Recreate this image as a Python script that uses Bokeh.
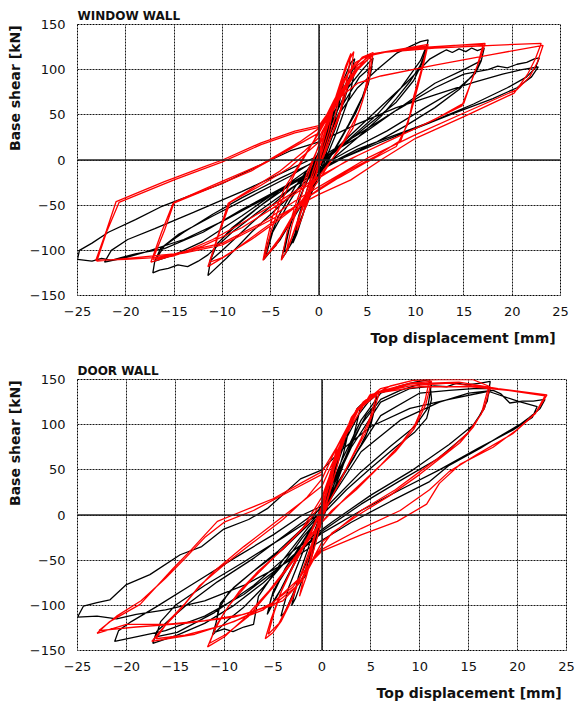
import math
from bokeh.plotting import figure
from bokeh.layouts import column
from bokeh.models import Range1d, Span, Title, FixedTicker
from bokeh.embed import file_html
from bokeh.resources import INLINE

X_TICKS = [-25, -20, -15, -10, -5, 0, 5, 10, 15, 20, 25]
Y_TICKS = [-150, -100, -50, 0, 50, 100, 150]

WIN_TITLE = "WINDOW WALL"
DOOR_TITLE = "DOOR WALL"
X_LABEL = "Top displacement  [mm]"
Y_LABEL = "Base shear  [kN]"

# Window wall - experimental (black)
WIN_BLACK = [
    (0, 0), (0.4, 15), (0.9, 32), (1.1, 38), (0.7, 22), (0.1, 2), (-0.4, -15), (-0.9, -33), (-1.1, -40), (-0.7, -24), (-0.1, -4),
    (0.5, 18), (1.2, 42), (1.6, 55), (1.2, 36), (0.4, 8), (-0.5, -20), (-1.2, -45), (-1.7, -62), (-1.2, -40), (-0.4, -12),
    (0.6, 22), (1.5, 55), (2.3, 80), (2.6, 88), (2.0, 58), (1.0, 22), (-0.2, -12), (-1.3, -48), (-2.3, -82), (-2.7, -92), (-2.1, -62), (-1.0, -25), (0.1, 8),
    (1.2, 45), (2.4, 85), (3.3, 108), (3.7, 112), (3.0, 80), (1.8, 38), (0.4, -2), (-1.2, -45), (-2.6, -88), (-3.5, -104), (-3.9, -110), (-3.2, -80), (-2.0, -42), (-0.6, -5),
    (1.0, 35), (2.5, 78), (3.5, 100), (3.8, 105), (3.2, 72), (1.8, 30), (0.2, -12), (-1.5, -55), (-3.0, -95), (-3.6, -102), (-3.0, -72), (-1.6, -32), (0, 5),
    (1.5, 45), (3, 80), (4.5, 100), (5.6, 113), (5.3, 95), (4.5, 70), (3, 38), (1.5, 10), (0, -15), (-2, -52), (-4, -88), (-5.7, -110), (-5.3, -92), (-4.2, -62), (-2.5, -30), (-0.8, -5), (0.8, 22),
    (2.5, 62), (4.2, 92), (5.5, 104), (5.1, 84), (3.8, 52), (2, 18), (0, -18), (-2.5, -62), (-4.5, -95), (-5.5, -106), (-4.8, -80), (-3, -45), (-1, -12), (0.5, 12),
    (2, 50), (4, 80), (6, 100), (8, 118), (9.5, 126), (10.5, 131), (11.3, 133), (11.1, 122), (10.5, 105), (9.5, 88), (8, 68), (6.4, 48), (4, 25), (1.5, 2), (-1, -20), (-4, -50), (-7, -80), (-9.5, -108), (-11.5, -128), (-11.2, -110), (-10.5, -92), (-8.5, -72), (-6, -50), (-3, -25), (0, -2),
    (3, 22), (6, 50), (8.5, 80), (10.5, 110), (11.2, 128), (10.8, 110), (9.8, 88), (8, 64), (5, 38), (2, 12), (-1, -15), (-4, -42), (-7, -70), (-10, -100), (-11.3, -112), (-10.7, -95), (-9, -75), (-6, -50), (-3, -28), (0, -5),
    (3, 25), (6, 55), (9, 85), (11.5, 112), (12.5, 118), (13.2, 122), (13.8, 119), (14.5, 123), (15.2, 120), (15.8, 124), (16.4, 121), (17.1, 124), (16.8, 110), (16, 95), (14.5, 78), (12, 58), (9, 38), (6, 20), (3, 5), (0, -12),
    (-3, -32), (-6, -55), (-9, -80), (-11.5, -105), (-12.5, -112), (-13.6, -118), (-14.6, -116), (-15.6, -120), (-16.5, -122), (-17.2, -125), (-17, -112), (-16, -95), (-14, -80), (-11, -60), (-8, -42), (-4, -20), (0, 0),
    (4, 25), (8, 55), (12, 85), (15, 100), (16.8, 110), (16.2, 96), (14.5, 80), (11, 58), (7, 32), (3, 10), (0, -8), (-4, -32), (-8, -62), (-12, -90), (-15, -105), (-17, -112), (-16.4, -98), (-14.5, -82), (-11, -62), (-7, -40), (-3, -18),
    (0, 2), (4, 28), (8, 55), (12, 80), (15, 95), (17.5, 100), (18.5, 104), (19.5, 102), (20.5, 106), (21.5, 108), (22.3, 112), (22.8, 113), (22.4, 102), (21.5, 92), (19.5, 80), (16, 62), (12, 44), (8, 28), (4, 12), (0, -10),
    (-4, -32), (-8, -55), (-12, -80), (-16, -98), (-19, -104), (-20.5, -108), (-21.5, -111), (-22.5, -109), (-23.5, -112), (-25, -110), (-24.8, -100), (-23.5, -92), (-21.8, -80), (-19, -66), (-16.4, -52), (-13, -38), (-10, -26), (-6, -5), (-3, 10), (0, 20),
    (4, 40), (8, 58), (12, 72), (16, 86), (19, 95), (21, 100), (22.7, 103), (22, 92), (20.5, 80), (18, 68), (14, 52), (10, 35), (6, 18), (2, 0), (-2, -22), (-6, -45), (-10, -68), (-14, -88), (-18, -102), (-20, -108), (-22.2, -113),
    (-21.5, -100), (-19.8, -88), (-17, -76), (-13, -58), (-8, -35), (-4, -15), (0, 5),
]

# Window wall - numerical (red)
WIN_RED = [
    (0, 0), (0.6, 28), (1.2, 50), (1.5, 58), (1.0, 32), (0.2, 5), (-0.5, -22), (-1.2, -48), (-1.6, -58), (-1.0, -30), (-0.2, -5),
    (0.7, 30), (1.6, 62), (2.2, 75), (1.6, 45), (0.5, 8), (-0.8, -32), (-1.8, -65), (-2.3, -78), (-1.6, -45), (-0.5, -8),
    (0.6, 28), (1.8, 72), (2.8, 105), (3.3, 118), (3.0, 95), (2.2, 55), (0.8, 12), (-0.8, -28), (-2.2, -68), (-3.2, -98), (-3.9, -111), (-3.3, -80), (-2.3, -45), (-1.0, -8),
    (0.4, 25), (1.8, 68), (3.0, 108), (3.6, 120), (3.2, 90), (2.0, 45), (0.3, 0), (-1.5, -45), (-2.8, -85), (-3.4, -102), (-2.8, -72), (-1.6, -32), (-0.3, 8),
    (1.2, 55), (2.5, 88), (3.8, 108), (4.8, 114), (5.4, 117), (5.1, 95), (4.5, 65), (3.5, 35), (2, 10), (0, -18), (-2, -48), (-4, -85), (-5.8, -111), (-5.4, -90), (-4.8, -62), (-3.5, -30), (-1.5, 5), (0, 30),
    (1.5, 62), (3, 95), (4.5, 114), (5.6, 119), (5.2, 90), (4.2, 55), (2.5, 20), (0, -22), (-2.5, -60), (-4.5, -95), (-5.6, -108), (-5.0, -80), (-4.0, -48), (-2.5, -15), (-0.5, 22),
    (1.5, 65), (3, 95), (4.5, 113), (5.8, 118), (8, 122), (11.3, 128), (10.8, 105), (10.2, 80), (9.5, 52), (8.5, 22), (6, 5), (3, -12), (0, -32), (-3, -55), (-6, -78), (-9, -102), (-11.5, -118), (-10.5, -85), (-9.4, -48), (-7, -32), (-4, -12), (-1.5, 10), (0, 25),
    (2, 65), (4, 100), (5.5, 116), (8, 122), (11.2, 126), (10.6, 100), (9.8, 70), (9.2, 40), (8, 15), (5, -2), (2, -20), (-1, -40), (-4, -65), (-7, -88), (-10, -108), (-11.3, -113), (-10.3, -80), (-9.2, -47), (-6, -28), (-3, -8), (0, 20),
    (2, 70), (4, 105), (5.5, 117), (9, 123), (13, 126), (17.2, 129), (16.6, 110), (15.8, 88), (15, 63), (12, 45), (8, 25), (4, 5), (0, -18), (-4, -45), (-8, -70), (-11, -88), (-14, -102), (-17.4, -113), (-16.3, -80), (-15.1, -48), (-11, -30), (-7, -12), (-3, 12), (0, 30),
    (2, 68), (4, 102), (5.8, 118), (10, 124), (14, 127), (17, 128), (16.4, 105), (15.6, 82), (14.8, 60), (11, 40), (7, 20), (3, 0), (0, -20), (-4, -48), (-8, -75), (-12, -95), (-15, -106), (-17.2, -110), (-16, -78), (-15, -47), (-11, -28), (-6, -5), (-2, 20), (0, 35),
    (2.5, 80), (5, 115), (6.4, 119), (12, 124), (18, 127), (23, 129), (22.4, 112), (21.6, 95), (20.2, 74), (15, 48), (10, 24), (6.4, 0), (3.3, -22), (0, -38), (-3, -55), (-6, -72), (-10, -94), (-14, -103), (-17, -108), (-20, -110), (-23.1, -111),
    (-22, -78), (-21, -46), (-16, -24), (-12, -8), (-10, 0), (-6, 19), (-2.5, 32), (0, 38),
    (2, 68), (4, 85), (6.4, 93), (12, 105), (18, 117), (23.2, 127), (22.6, 108), (21.8, 92), (20.5, 78), (15, 52), (10, 28), (5, 2), (1.2, -22), (-2, -42), (-6, -70), (-10, -92), (-15, -104), (-19, -108), (-23, -112),
    (-22, -80), (-20.7, -47), (-15, -22), (-10, -2), (-6, 17), (-2.5, 30), (0, 36),
]

# Door wall - experimental (black)
DOOR_BLACK = [
    (0, 0), (0.4, 20), (0.9, 40), (1.1, 48), (0.7, 28), (0.1, 4), (-0.4, -18), (-0.9, -40), (-1.1, -48), (-0.7, -28), (-0.1, -5),
    (0.6, 28), (1.3, 55), (1.7, 68), (1.2, 42), (0.4, 10), (-0.6, -28), (-1.3, -55), (-1.8, -70), (-1.2, -42), (-0.4, -12),
    (0.8, 35), (1.8, 72), (2.6, 95), (2.9, 102), (2.2, 68), (1.0, 25), (-0.5, -22), (-1.8, -65), (-2.7, -92), (-3.1, -100), (-2.4, -68), (-1.2, -30), (0.2, 10),
    (1.5, 60), (2.8, 98), (3.6, 118), (4.0, 122), (3.3, 90), (2.0, 50), (0.4, 5), (-1.5, -50), (-3.0, -88), (-3.8, -108), (-4.2, -112), (-3.4, -80), (-2.0, -42), (-0.5, -2),
    (1.2, 45), (2.5, 85), (3.8, 112), (4.8, 126), (5.6, 133), (5.2, 110), (4.5, 88), (3.2, 62), (1.5, 32), (0, 5), (-1.5, -25), (-3, -58), (-4.5, -88), (-5.6, -110), (-5.2, -92), (-4.3, -72), (-3, -50), (-1.5, -22), (0, 5),
    (1.5, 40), (3, 80), (4.5, 110), (5.5, 123), (5, 100), (4, 78), (2.5, 50), (0.8, 18), (-1, -15), (-2.8, -52), (-4.2, -82), (-5.5, -105), (-5, -85), (-3.8, -60), (-2, -30), (-0.3, 0),
    (2, 60), (4, 105), (6, 135), (8, 143), (9.5, 147), (11, 150), (11.2, 128), (10.7, 107), (9.5, 92), (7.5, 75), (5, 52), (2.5, 28), (0, 0), (-2, -25), (-4, -55), (-6, -80), (-8, -102), (-9.5, -115), (-11.2, -133),
    (-10.8, -118), (-10.4, -98), (-9, -80), (-7, -62), (-4.5, -40), (-2, -15), (0, 10),
    (2, 55), (4, 100), (6, 128), (8, 138), (10, 145), (11.2, 146), (10.8, 118), (9.5, 98), (7, 76), (4, 48), (1, 15), (-1.5, -15), (-4, -50), (-6.5, -90), (-7, -121), (-8, -124), (-9.1, -129), (-10, -126), (-11, -130),
    (-10.6, -105), (-9.5, -85), (-7, -62), (-4, -38), (-1.5, -12), (0, 5),
    (3, 75), (6, 125), (9, 140), (11.5, 143), (12.8, 142), (13.8, 146), (14.8, 144), (16.2, 146), (17.2, 148), (16.9, 126), (16, 108), (14.8, 89), (11.8, 62), (8, 38), (4, 12), (0, -18), (-3, -45), (-6, -75), (-9, -100), (-12, -120), (-14.8, -133), (-17.3, -142),
    (-16.9, -129), (-15.8, -118), (-13.8, -99), (-10.7, -74), (-7, -48), (-3.5, -20), (0, 8),
    (3, 60), (6, 110), (10, 135), (13, 138), (15.5, 140), (17.2, 140), (16.6, 118), (15.5, 100), (13, 78), (9.3, 50), (5, 22), (1, -8), (-3, -40), (-7, -78), (-11, -108), (-14.8, -130), (-17, -135),
    (-16.5, -118), (-15, -100), (-12, -78), (-8, -52), (-4, -25), (0, 3),
    (4, 70), (8, 105), (12, 125), (15, 135), (17.5, 138), (18.3, 134), (19.2, 124), (20.5, 126), (21.6, 126), (22.8, 128), (22.3, 118), (21.2, 108), (20.2, 100), (18, 86), (16.2, 74), (13, 55), (11, 37), (7, 15), (3, -8), (0, -28),
    (-4, -55), (-8, -78), (-12, -95), (-16, -105), (-19, -110), (-21, -115), (-23, -112), (-25, -113), (-24.4, -101), (-23, -97), (-21.7, -94), (-20, -77), (-17.6, -66), (-14.5, -44), (-12.3, -35), (-10.1, -16), (-7.5, -5), (-5.6, 7), (-2.2, 40), (0, 50),
    (2, 72), (5, 98), (9, 118), (13, 128), (17, 137), (20, 126), (22, 120), (21.5, 108), (19.5, 94), (16, 74), (12, 50), (8, 28), (4, 5), (0, -20), (-4, -55), (-8, -88), (-12, -112), (-16, -128), (-19.5, -136), (-21.2, -140),
    (-20.8, -128), (-19.5, -118), (-17, -102), (-13, -75), (-9, -48), (-5, -22), (-2, 0), (0, 10),
]

# Door wall - numerical (red)
DOOR_RED = [
    (0, 0), (0.5, 25), (1.0, 45), (1.3, 55), (0.9, 32), (0.2, 5), (-0.5, -25), (-1.0, -45), (-1.3, -55), (-0.9, -32), (-0.2, -5),
    (0.8, 40), (1.6, 70), (2.2, 88), (1.7, 60), (0.8, 25), (-0.5, -25), (-1.6, -68), (-2.3, -90), (-1.7, -60), (-0.8, -25),
    (0, 10), (1, 45), (2, 80), (3, 108), (4.2, 125), (5.2, 133), (5.9, 137), (5.3, 115), (4.4, 90), (3, 62), (1.5, 30), (0, 0), (-1, -30), (-2, -62), (-3, -92), (-4.2, -118), (-5, -130), (-5.8, -137),
    (-5.2, -115), (-4.3, -88), (-3, -58), (-1.5, -28), (0, 5),
    (1.2, 50), (2.5, 90), (3.8, 118), (5, 132), (5.6, 134), (5, 110), (4, 85), (2.5, 52), (1, 20), (-0.5, -15), (-1.8, -55), (-3, -90), (-4.4, -120), (-5.5, -132), (-4.9, -108), (-4, -80), (-2.6, -48), (-1, -15), (0.2, 15),
    (1.5, 74), (3.6, 118), (5.6, 135), (7, 143), (9.3, 149), (11, 150), (10.5, 125), (9.5, 100), (8, 78), (6, 55), (3.5, 28), (1, 5), (-1, -20), (-3, -50), (-5.5, -85), (-8, -115), (-10, -135), (-11.7, -146),
    (-11, -128), (-10, -108), (-8.5, -85), (-6.5, -62), (-4, -38), (-1.5, -10), (0, 15),
    (1.5, 70), (3.6, 115), (6, 137), (9, 146), (11.2, 148), (10.6, 122), (9.4, 95), (7.5, 70), (5, 45), (2.5, 20), (0, -8), (-2.5, -45), (-5, -80), (-7.5, -112), (-9.8, -132), (-11.5, -142),
    (-10.8, -122), (-9.5, -100), (-7.5, -75), (-5, -48), (-2, -15), (0, 20),
    (2, 80), (4, 122), (6, 140), (9.3, 149), (12, 150), (15.4, 150), (17.2, 142), (16.6, 118), (15.5, 98), (14.1, 80), (12, 62), (10, 45), (7, 22), (4, 2), (1, -20), (-1, -50), (-2.5, -72), (-5, -97), (-9, -118), (-13, -132), (-17.4, -140),
    (-16.5, -128), (-15.5, -115), (-14, -98), (-12.5, -78), (-10, -55), (-7, -30), (-4, -5), (-1.5, 20), (0, 40),
    (1.5, 75), (3.5, 115), (5.5, 135), (9, 143), (13, 146), (17, 141), (16.3, 112), (15, 92), (13, 72), (10, 48), (7.5, 28), (4, 5), (0, -30), (-1, -50), (-3, -80), (-6, -105), (-10, -122), (-14, -133), (-17, -137),
    (-16, -122), (-14.5, -105), (-13, -85), (-11, -62), (-8, -35), (-5, -10), (-2, 15), (0, 32),
    (2, 80), (4.9, 133), (9, 145), (14, 147), (18, 140), (23, 133), (22, 115), (20, 95), (17.5, 75), (14.1, 56), (12, 35), (10.7, 12), (7.7, -7), (4, -22), (0, -40), (-0.9, -50), (-2, -72), (-4, -95), (-8, -110), (-12, -117), (-16, -121), (-20, -121), (-23, -131),
    (-21.7, -118), (-18.6, -99), (-15.2, -59), (-13.5, -40), (-10.7, -7), (-9.1, 0), (-5, 18), (-2.2, 35), (0, 48),
    (1.5, 75), (3.6, 118), (5.6, 135), (10, 142), (15, 142), (19, 138), (22.8, 132), (21.8, 112), (19.5, 90), (16, 68), (13, 48), (11, 28), (8, 5), (4, -15), (0, -38), (-1, -50), (-2.5, -78), (-5, -100), (-9, -113), (-14, -120), (-19, -124), (-22.8, -128),
    (-21, -112), (-18.5, -95), (-16, -70), (-14, -48), (-12, -25), (-10, -8), (-7, 5), (-3, 28), (0, 45),
]

FONT = "DejaVu Sans"


def make_fig(title, black, red, frame_w, left, right, top, bottom):
    p = figure(frame_width=frame_w, frame_height=271, output_backend="svg", toolbar_location=None,
               x_range=Range1d(-25, 25), y_range=Range1d(-150, 150),
               min_border_left=left, min_border_right=right, min_border_top=top, min_border_bottom=bottom)
    p.outline_line_color = "black"
    p.outline_line_dash = "2 1"
    p.outline_line_width = 1
    p.background_fill_color = "white"
    p.border_fill_color = "white"
    p.title.text = title
    p.title.align = "left"
    p.title.text_font = FONT
    p.title.text_font_style = "bold"
    p.title.text_font_size = "12px"
    p.title.text_color = "#111111"
    p.title.standoff = 3
    for ax in (p.xaxis[0], p.yaxis[0]):
        ax.axis_line_color = None
        ax.major_tick_line_color = None
        ax.minor_tick_line_color = None
        ax.major_tick_out = 0
        ax.major_tick_in = 0
        ax.minor_tick_out = 0
        ax.minor_tick_in = 0
        ax.major_label_text_font = FONT
        ax.major_label_text_font_size = "13px"
        ax.major_label_text_color = "#111111"
    p.xaxis[0].ticker = FixedTicker(ticks=X_TICKS)
    p.yaxis[0].ticker = FixedTicker(ticks=Y_TICKS)
    p.xaxis[0].major_label_standoff = 11
    p.yaxis[0].major_label_standoff = 12
    for g in (p.xgrid[0], p.ygrid[0]):
        g.grid_line_color = "black"
        g.grid_line_dash = "2 1"
        g.grid_line_width = 1
        g.grid_line_alpha = 0.9
    p.xgrid[0].ticker = FixedTicker(ticks=X_TICKS)
    p.ygrid[0].ticker = FixedTicker(ticks=Y_TICKS)
    p.add_layout(Span(location=0, dimension="width", line_color="#222222", line_width=1.5))
    p.add_layout(Span(location=0, dimension="height", line_color="#222222", line_width=1.5))
    bx = [pt[0] for pt in black]
    by = [pt[1] for pt in black]
    rx = [pt[0] for pt in red]
    ry = [pt[1] for pt in red]
    p.line(bx, by, line_color="black", line_width=1.3)
    p.line(rx, ry, line_color="#ff0000", line_width=1.3)
    p.add_layout(Title(text=X_LABEL, align="right", text_font=FONT, text_font_style="bold",
                       text_font_size="14px", text_color="#111111", standoff=19), "below")
    p.add_layout(Title(text=Y_LABEL, align="right", text_font=FONT, text_font_style="bold",
                       text_font_size="14px", text_color="#111111", standoff=8, offset=-4), "left")
    return p


p1 = make_fig(WIN_TITLE, WIN_BLACK, WIN_RED, 483, 76, 16, 24, 59)
p2 = make_fig(DOOR_TITLE, DOOR_BLACK, DOOR_RED, 489, 77, 9, 24, 60)

layout = column(p1, p2, spacing=0)
open("out.html", "w").write(file_html(layout, INLINE))
